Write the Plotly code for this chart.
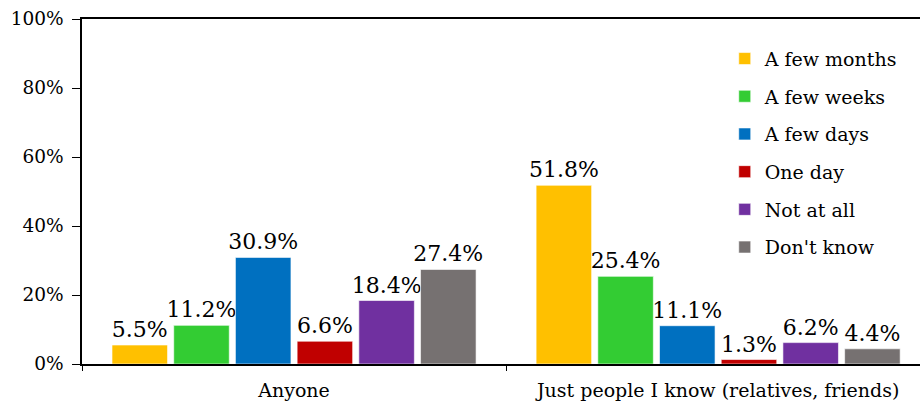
import plotly.graph_objects as go

categories = ["Anyone", "Just people I know (relatives, friends)"]
series_names = ["A few months", "A few weeks", "A few days", "One day", "Not at all", "Don't know"]
series_values = [
    [5.5, 51.8],
    [11.2, 25.4],
    [30.9, 11.1],
    [6.6, 1.3],
    [18.4, 6.2],
    [27.4, 4.4],
]
colors = ["#FFC000", "#33CC33", "#0070C0", "#C00000", "#7030A0", "#767171"]
y_ticks = [0, 20, 40, 60, 80, 100]
y_tick_labels = ["0%", "20%", "40%", "60%", "80%", "100%"]

FONT = "DejaVu Serif"

fig = go.Figure()
for i, (name, vals, col) in enumerate(zip(series_names, series_values, colors)):
    fig.add_trace(go.Bar(
        x=categories,
        y=vals,
        name=name,
        legendgroup=f"g{i}",
        marker=dict(color=col, line=dict(color="rgba(255,255,255,0.6)", width=1)),
        text=[f"{v:.1f}%" for v in vals],
        textposition="outside",
        constraintext="none",
        textfont=dict(family=FONT, size=22, color="black"),
        cliponaxis=False,
    ))

fig.update_layout(
    width=920, height=407,
    margin=dict(l=82, r=0, t=19, b=43),
    paper_bgcolor="white", plot_bgcolor="white",
    barmode="group",
    bargap=0.127,
    bargroupgap=0.1,
    font=dict(family=FONT, color="black"),
    showlegend=True,
    legend=dict(
        x=0.767, y=0.94, xanchor="left", yanchor="top",
        font=dict(family=FONT, size=19, color="black"),
        tracegroupgap=10,
        bgcolor="rgba(0,0,0,0)",
    ),
)
fig.update_xaxes(
    type="category",
    range=[-0.5, 1.476],
    showline=True, linecolor="black", linewidth=1.5,
    mirror=True,
    ticks="outside", tickson="boundaries", ticklen=5, tickcolor="black",
    tickfont=dict(family=FONT, size=19, color="black"),
    ticklabelstandoff=8,
    showgrid=False,
)
fig.update_yaxes(
    range=[0, 100],
    tickvals=y_ticks, ticktext=y_tick_labels,
    showline=True, linecolor="black", linewidth=1.5,
    ticks="outside", ticklen=8, tickcolor="black",
    tickfont=dict(family=FONT, size=18.5, color="black"),
    ticklabelstandoff=5,
    showgrid=False, zeroline=False,
)

fig.write_html("out.html")
